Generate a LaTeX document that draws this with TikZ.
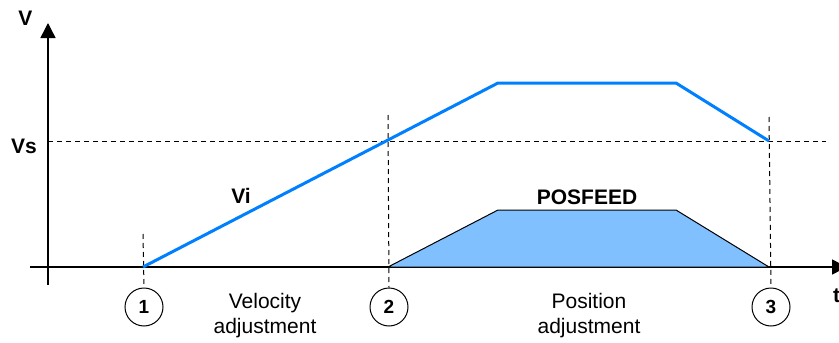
\documentclass[tikz,border=0pt]{standalone}
\usepackage{fontspec}
\setmainfont{Liberation Sans}
\usetikzlibrary{arrows.meta}
\definecolor{speedblue}{RGB}{0,128,255}
\definecolor{feedfill}{RGB}{128,192,255}
\begin{document}
\begin{tikzpicture}[x=1pt,y=-1pt,
  axis/.style={line width=1.4pt,-{Triangle[length=15pt,width=15pt]}},
  guide/.style={line width=1pt,dash pattern=on 5pt off 4pt},
  speed/.style={line width=3pt,speedblue,line join=miter},
  feed/.style={line width=1pt,fill=feedfill,draw=black},
  marker/.style={circle,draw,line width=1pt,minimum size=38pt,inner sep=0pt,
    font=\fontsize{19}{19}\selectfont\bfseries},
  lbl/.style={font=\fontsize{21}{21}\selectfont\bfseries,inner sep=0pt},
  phase/.style={font=\fontsize{21}{25}\selectfont,align=center,inner sep=0pt}]
\useasboundingbox (0,0) rectangle (839,343);

% key points on the time axis
\coordinate (o) at (48,267);
\coordinate (p1) at (143,267);
\coordinate (p2) at (388,267);
\coordinate (p3) at (769,267);
\coordinate (vs2) at (388,141);
\coordinate (vs3) at (769,141);

% axes
\coordinate (yb) at (48,285);
\coordinate (yt) at (48,23);
\coordinate (xl) at (30,267);
\coordinate (xr) at (847,267);
\draw[axis] (yb) -- (yt);
\draw[axis] (xl) -- (xr);

% reference lines
\coordinate (vsl) at (48,141);
\coordinate (vsr) at (826,141);
\draw[guide] (vsl) -- (vsr);
\coordinate (g1t) at (143,234);
\coordinate (g2t) at (388,115);
\coordinate (g3t) at (769,117);

% phase markers
\node[marker] (m1) at (144,307) {1};
\node[marker] (m2) at (389,307) {2};
\node[marker] (m3) at (771,307) {3};
\draw[guide] (g1t) -- (m1.north);
\draw[guide] (g2t) -- (m2.north);
\draw[guide] (g3t) -- (m3.north);

% POSFEED profile
\coordinate (f1) at (498,210);
\coordinate (f2) at (676,210);
\draw[feed] (p2) -- (f1) -- (f2) -- (p3) -- cycle;

% velocity profile
\coordinate (v1) at (498,83);
\coordinate (v2) at (676,83);
\draw[speed] (p1) -- (v1) -- (v2) -- (vs3);

% labels
\node[lbl] (lv) at (25.5,18) {V};
\node[lbl] (lvs) at (24,146) {Vs};
\node[lbl] (lvi) at (241,196) {Vi};
\node[lbl] (lpf) at (587,197) {POSFEED};
\node[lbl,anchor=west] (lt) at (833,296) {t};
\node[phase] (ph1) at (265,316) {Velocity\\adjustment};
\node[phase] (ph2) at (589,316) {Position\\adjustment};
\end{tikzpicture}
\end{document}
